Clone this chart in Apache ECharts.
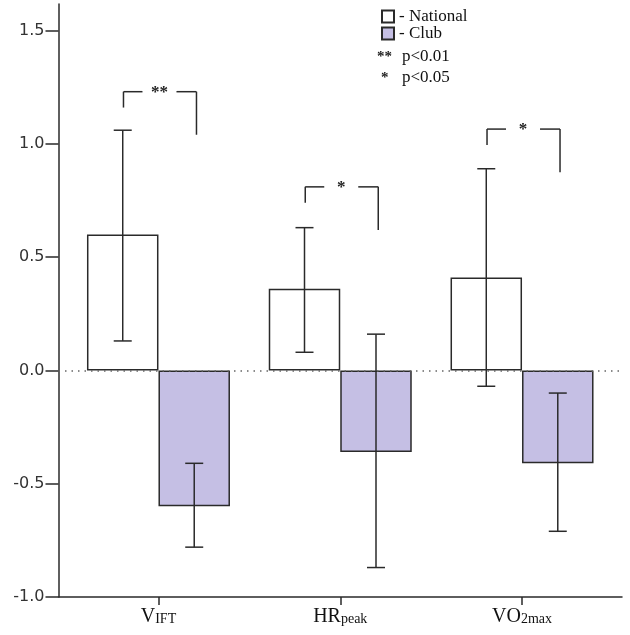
<!DOCTYPE html>
<html>
<head>
<meta charset="utf-8">
<script src="https://cdn.jsdelivr.net/npm/echarts@6/dist/echarts.min.js"></script>
<style>html,body{margin:0;padding:0;background:#fff}#c{width:630px;height:635px}</style>
</head>
<body>
<div id="c"></div>
<script>
// ---- data ----
var categories = ['VIFT', 'HRpeak', 'VO2max'];
var catMain = ['V', 'HR', 'VO'];
var catSub = ['IFT', 'peak', '2max'];
var nationalMean = [0.60, 0.36, 0.41];
var nationalLow  = [0.13, 0.08, -0.07];
var nationalHigh = [1.06, 0.63, 0.89];
var clubMean = [-0.60, -0.36, -0.41];
var clubLow  = [-0.78, -0.87, -0.71];
var clubHigh = [-0.41, 0.16, -0.10];
var yTicks = [-1.0, -0.5, 0.0, 0.5, 1.0, 1.5];
// significance brackets: category index, top, left leg end, right leg end, label
var bracketCat   = [0, 1, 2];
var bracketTop   = [1.23, 0.81, 1.065];
var bracketLeft  = [1.16, 0.74, 0.995];
var bracketRight = [1.04, 0.62, 0.875];
var bracketLabel = ['**', '*', '*'];

var serif = '"Liberation Serif","Times New Roman",serif';
var sans = '"DejaVu Sans",Verdana,sans-serif';
var INK = '#2a2a2a';
var BARW = 71.5;

var chart = echarts.init(document.getElementById('c'));

function pos(i) { return i + 1; }

var natData = categories.map(function (c, i) { return [pos(i), nationalMean[i]]; });
var clubData = categories.map(function (c, i) { return [pos(i), clubMean[i]]; });
var errData = [];
categories.forEach(function (c, i) {
  errData.push([pos(i), nationalLow[i], nationalHigh[i], -1]);
  errData.push([pos(i), clubLow[i], clubHigh[i], 1]);
});
var brData = bracketCat.map(function (ci, k) {
  return [pos(ci), bracketTop[k], bracketLeft[k], bracketRight[k], k];
});

function lineEl(x1, y1, x2, y2) {
  return { type: 'line', shape: { x1: x1, y1: y1, x2: x2, y2: y2 },
    style: { stroke: INK, lineWidth: 1.5 } };
}

chart.setOption({
  animation: false,
  backgroundColor: '#fff',
  grid: { left: 58.5, right: 8, top: 4, bottom: 38 },
  legend: {
    data: ['National', 'Club'],
    orient: 'vertical',
    left: 381, top: 8,
    padding: 0,
    icon: 'rect',
    itemWidth: 12, itemHeight: 12,
    itemGap: 0,
    formatter: '- {name}',
    textStyle: { fontFamily: serif, fontSize: 17, color: '#111' }
  },
  graphic: [
    { type: 'text', left: 377, top: 50, style: { text: '**', font: 'bold 15px ' + serif, fill: '#222' } },
    { type: 'text', left: 402, top: 48, style: { text: 'p<0.01', font: '17px ' + serif, fill: '#111' } },
    { type: 'text', left: 381, top: 71, style: { text: '*', font: 'bold 15px ' + serif, fill: '#222' } },
    { type: 'text', left: 402, top: 69, style: { text: 'p<0.05', font: '17px ' + serif, fill: '#111' } }
  ],
  xAxis: {
    type: 'value', min: 0.45, max: 3.55,
    splitLine: { show: false },
    axisLine: { show: true, onZero: false, lineStyle: { color: INK, width: 1.5 } },
    axisTick: { show: true, customValues: [1, 2, 3], length: 8, lineStyle: { color: INK, width: 1.5 } },
    axisLabel: {
      customValues: [1, 2, 3], margin: 8,
      formatter: function (v) {
        var i = Math.round(v) - 1;
        if (i < 0 || i > 2) return '';
        return '{m|' + catMain[i] + '}{s|' + catSub[i] + '}';
      },
      rich: {
        m: { fontFamily: serif, fontSize: 20, color: '#111', verticalAlign: 'bottom', lineHeight: 22 },
        s: { fontFamily: serif, fontSize: 14, color: '#111', verticalAlign: 'bottom', lineHeight: 22, padding: [0, 0, 1, 0] }
      }
    }
  },
  yAxis: {
    type: 'value', min: -1, max: 1.617,
    splitLine: { show: false },
    axisLine: { show: true, lineStyle: { color: INK, width: 1.5 } },
    axisTick: { show: true, customValues: yTicks, length: 13, lineStyle: { color: INK, width: 1.5 } },
    axisLabel: {
      customValues: yTicks, margin: 14,
      fontFamily: sans, fontSize: 16, color: '#333',
      formatter: function (v) { return v.toFixed(1); }
    }
  },
  series: [
    {
      type: 'line', data: [], z: 1, silent: true,
      markLine: {
        silent: true, symbol: 'none', animation: false,
        label: { show: false },
        lineStyle: { color: '#666', type: [1.5, 5], width: 1.5 },
        data: [{ yAxis: 0 }]
      }
    },
    {
      name: 'National', type: 'bar', data: natData, barWidth: BARW, barGap: '0%', z: 3,
      itemStyle: { color: '#ffffff', borderColor: INK, borderWidth: 1.5 }
    },
    {
      name: 'Club', type: 'bar', data: clubData, barWidth: BARW, barGap: '0%', z: 3,
      itemStyle: { color: '#c5bfe4', borderColor: INK, borderWidth: 1.5 }
    },
    {
      type: 'custom', z: 5, silent: true, clip: false,
      data: errData,
      renderItem: function (params, api) {
        var side = api.value(3);
        var lo = api.coord([api.value(0), api.value(1)]);
        var hi = api.coord([api.value(0), api.value(2)]);
        var x = lo[0] + side * BARW / 2;
        var cap = 9;
        return { type: 'group', children: [
          lineEl(x, lo[1], x, hi[1]),
          lineEl(x - cap, lo[1], x + cap, lo[1]),
          lineEl(x - cap, hi[1], x + cap, hi[1])
        ] };
      }
    },
    {
      type: 'custom', z: 5, silent: true, clip: false,
      data: brData,
      renderItem: function (params, api) {
        var k = api.value(4);
        var top = api.coord([api.value(0), api.value(1)]);
        var lEnd = api.coord([api.value(0), api.value(2)])[1];
        var rEnd = api.coord([api.value(0), api.value(3)])[1];
        var cx = top[0] + 1, y = top[1];
        var xl = cx - 36, xr = cx + 37, gap = 17;
        return { type: 'group', children: [
          lineEl(xl, lEnd, xl, y),
          lineEl(xl, y, cx - gap, y),
          lineEl(cx + gap, y, xr, y),
          lineEl(xr, y, xr, rEnd),
          { type: 'text', x: cx, y: y + 1,
            style: { text: bracketLabel[k], font: 'bold 17px ' + serif, fill: '#222',
              align: 'center', verticalAlign: 'middle' } }
        ] };
      }
    }
  ]
});
</script>
</body>
</html>
